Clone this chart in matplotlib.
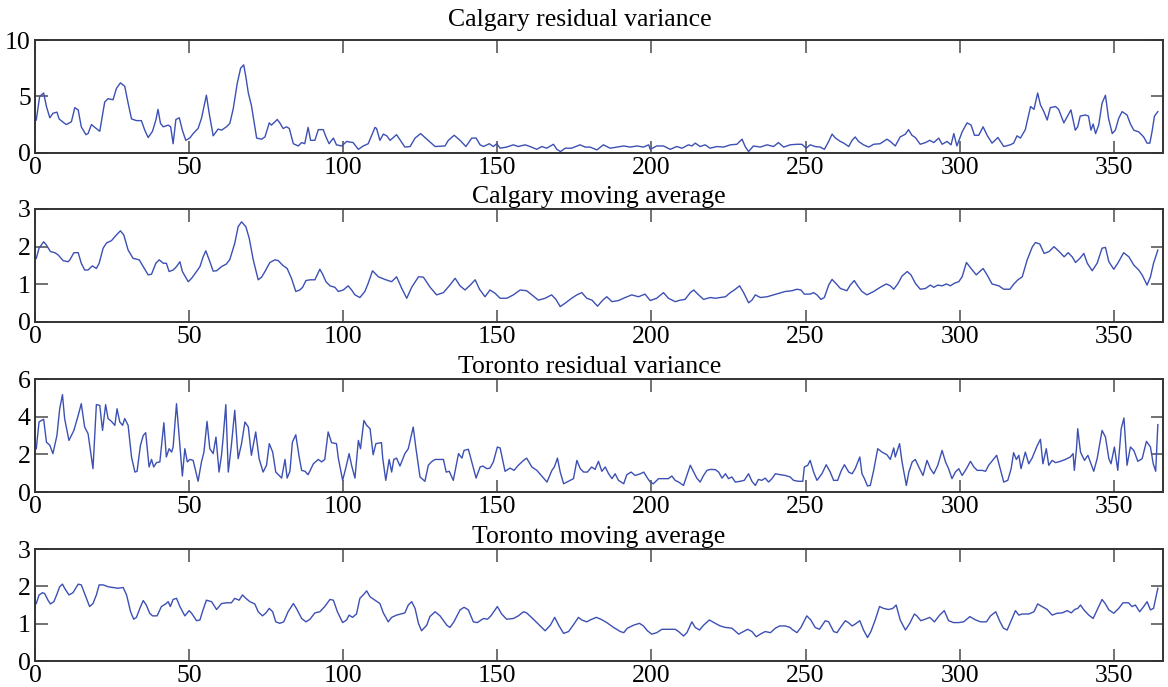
import matplotlib
matplotlib.use("Agg")
import matplotlib.pyplot as plt

# values, (day, value) at turning points
cal_var_day = [0.4, 1.5, 2.8, 3.7, 4.8, 5.8, 7.1, 7.8, 9.6, 10.2, 11.8, 12.9, 14, 15, 16.5, 17.2, 18.3, 19.4, 21,
               22.6, 23.7, 25.3, 26.4, 27.7, 29.1, 30.2, 31.3, 32.9, 34.5, 35.6, 36.7, 38.1, 39.2, 39.9, 40.7, 41.6,
               43.2, 44, 44.8, 45.7, 46.8, 47.8, 48.9, 50.2, 51.3, 52.9, 54, 55.6, 56.5, 57.8, 59.4, 60.5, 62.1,
               63.2, 64.3, 65.6, 66.7, 67.7, 68.4, 69.2, 70.2, 71.9, 73.5, 74.6, 76, 76.7, 78.6, 79.4, 80.5, 81.6,
               82.5, 83.8, 85.4, 86.5, 87.5, 88.6, 89.4, 90.8, 91.9, 93.5, 94.4, 95.4, 96.8, 97.8, 99.5, 101.1,
               103.2, 104.9, 106.5, 108.1, 110.3, 110.8, 111.9, 113, 114.1, 115.2, 117.3, 120, 121.7, 123.3, 125.1,
               126.5, 129.8, 133, 134.1, 136, 137.9, 139.8, 141.7, 143.1, 144.4, 145.5, 147.4, 148.7, 149.8, 150.9,
               153, 155.2, 156.8, 159, 160.6, 162.8, 164.4, 166, 168.2, 169.3, 170.5, 172, 174.1, 176.8, 178.5,
               180.1, 182.3, 184.4, 186.6, 188.8, 191, 193.1, 195.3, 197.4, 199.1, 199.6, 201.7, 203.9, 206.1,
               208.2, 209.9, 212, 213.1, 214.2, 215.8, 217.4, 219, 221.2, 223.4, 225.6, 227.7, 229.4, 230.4, 231.5,
               233.1, 235.3, 237.5, 239.6, 241.2, 242.9, 245, 247.2, 248.8, 250.2, 251.5, 253.1, 254.8, 256.1,
               257.5, 258.6, 259.7, 261.3, 262.4, 264, 265.1, 266.1, 267.2, 268.8, 270.5, 272.1, 274.2, 276.4,
               277.5, 279.1, 280.7, 282.4, 283.4, 284.5, 285.6, 287.2, 288.9, 290.3, 291.6, 293.2, 294.3, 295.9,
               297.2, 298.1, 299.1, 300.8, 302.4, 303.7, 304.8, 306.2, 307.6, 308.9, 310.5, 312.4, 314.3, 316.4,
               317.5, 318.6, 319.7, 321.3, 323, 324.1, 325.3, 326.2, 327.3, 328.4, 329.4, 331.1, 332.1, 333.8,
               334.8, 336.1, 337.5, 338.3, 339.1, 340.8, 341.8, 342.6, 343.3, 344.1, 345.1, 346.2, 347.3, 348.3,
               349.5, 350.5, 351.6, 352.7, 354.3, 355.4, 356.5, 358.1, 359.7, 360.8, 361.7, 362.4, 363.2, 364.3]
cal_var_val = [2.9, 5.0, 5.3, 4.1, 3.1, 3.5, 3.6, 3.0, 2.6, 2.5, 2.75, 4.0, 3.8, 2.3, 1.6, 1.7, 2.5, 2.25, 1.9,
               4.5, 4.8, 4.7, 5.7, 6.2, 5.9, 4.4, 3.0, 2.85, 2.85, 2.0, 1.35, 1.9, 2.9, 3.85, 2.6, 2.3,
               2.45, 2.3, 0.8, 2.95, 3.1, 2.0, 1.1, 1.3, 1.7, 2.15, 3.05, 5.1, 3.5, 1.5, 2.1, 2.0, 2.3,
               2.6, 3.9, 6.15, 7.5, 7.8, 6.75, 5.3, 4.2, 1.3, 1.2, 1.4, 2.65, 2.45, 2.95, 2.65, 2.15, 2.3,
               2.15, 0.8, 0.6, 0.9, 0.8, 2.25, 1.1, 1.1, 2.05, 2.05, 1.4, 0.8, 1.3, 0.7, 0.6, 1.0,
               0.9, 0.3, 0.6, 0.8, 2.25, 2.15, 1.1, 1.65, 1.5, 1.1, 1.6, 0.5, 0.55, 1.3, 1.7,
               1.35, 0.55, 0.6, 1.1, 1.55, 1.1, 0.55, 1.3, 1.3, 0.7, 0.55, 0.8, 0.55, 0.8, 0.4,
               0.5, 0.7, 0.55, 0.7, 0.55, 0.3, 0.55, 0.4, 0.75, 0.3, 0.1, 0.4, 0.4, 0.7, 0.5,
               0.5, 0.25, 0.7, 0.4, 0.5, 0.6, 0.5, 0.6, 0.5, 0.7, 0.3, 0.6, 0.6, 0.3,
               0.55, 0.4, 0.7, 0.6, 0.85, 0.55, 0.7, 0.4, 0.55, 0.5, 0.7, 0.75, 1.2, 0.55, 0.1,
               0.6, 0.5, 0.7, 0.55, 0.9, 0.5, 0.7, 0.75, 0.75, 0.4, 0.7, 0.55, 0.5, 0.3,
               1.0, 1.65, 1.3, 1.0, 0.85, 0.55, 1.1, 1.4, 1.0, 0.7, 0.5, 0.75, 0.8, 1.2,
               1.0, 0.6, 1.4, 1.65, 2.05, 1.55, 1.35, 0.75, 0.9, 1.1, 0.9, 1.3, 0.75, 1.0,
               0.7, 1.7, 0.6, 1.85, 2.65, 2.45, 1.55, 1.55, 2.3, 1.55, 0.85, 1.35, 0.55, 0.7,
               0.85, 1.5, 1.3, 2.05, 4.1, 3.85, 5.3, 4.25, 3.65, 2.9, 4.0, 4.1, 3.85, 2.65,
               3.15, 3.8, 2.0, 2.3, 3.25, 3.35, 3.25, 2.0, 2.55, 1.7, 2.45, 4.4, 5.1, 3.05,
               1.7, 2.0, 3.05, 3.65, 3.35, 2.55, 2.0, 1.85, 1.4, 0.85, 0.85, 1.85, 3.25, 3.65]

cal_avg_day = [0.4, 1.3, 2.8, 3.7, 5, 6.4, 7.5, 9.1, 10.7, 11.3, 12.6, 14, 15, 16.1, 17.2, 18.6, 19.9, 20.8, 22.1,
               23.2, 24.8, 26.4, 27.7, 28.8, 30.2, 31.8, 33.8, 35.1, 36.7, 37.8, 39.2, 40.3, 41.6, 42.6, 43.5,
               44.8, 45.9, 47, 47.8, 49.7, 50.8, 52.4, 53.5, 54.5, 55.4, 56.5, 57.8, 58.9, 60.5, 62.1, 63.2, 64.8,
               65.9, 67, 68.4, 69.5, 70.8, 72.4, 73.5, 74.6, 76.2, 77.8, 78.9, 80.3, 81.8, 83.2, 84.6, 85.9, 86.8,
               87.9, 89.2, 90.8, 92.4, 93.3, 94.4, 95.7, 97.3, 98.4, 100, 101.6, 102.7, 103.8, 105.4, 107, 108.1,
               109.5, 111.4, 113.5, 115.7, 117.3, 119, 120.6, 122.2, 124.4, 126, 128.2, 130.3, 132.5, 134.6, 136.3,
               137.9, 139.5, 141.2, 142.8, 144.2, 146, 147.6, 149.3, 150.9, 153.1, 155.2, 157.4, 159.5, 161.2,
               163.3, 165.5, 167.6, 169, 170.4, 172, 174.1, 175.8, 177.4, 179, 180.7, 182.5, 184.2, 185.5, 187.2,
               189.3, 191.5, 193.6, 195.8, 197.9, 199.6, 201.7, 203.9, 205.5, 207.7, 209.3, 210.9, 212.6, 213.7,
               215.3, 216.9, 219.1, 220.7, 222.3, 224, 225.6, 227.2, 228.6, 229.9, 231.5, 232.6, 233.7, 235.3,
               237.5, 239.6, 241.2, 243.4, 245.6, 247.2, 248.5, 249.6, 251.5, 252.6, 253.7, 255, 256.1, 257.5,
               258.6, 260, 261.3, 263.4, 264.5, 265.8, 266.9, 268.3, 269.9, 272.1, 274.2, 276.2, 277.5, 278.6,
               279.9, 281.3, 283, 284.2, 285.6, 287.2, 288.9, 290.5, 291.6, 292.9, 294.3, 295.7, 297, 298.3,
               299.7, 300.8, 302.2, 303.7, 305.4, 306.5, 307.6, 308.9, 310.5, 312.7, 314.3, 316.3, 317.6, 318.9,
               320.3, 321.9, 323.6, 324.6, 326, 327.4, 329, 330.6, 332.3, 333.9, 335.2, 336.5, 337.6, 339,
               340.3, 341.4, 343, 344.6, 346.2, 347.3, 348.4, 350, 351.3, 353.2, 354.9, 356.5, 358.1, 359.2,
               360.8, 361.9, 362.9, 364.3]
cal_avg_val = [1.69, 1.96, 2.13, 2.04, 1.87, 1.84, 1.78, 1.63, 1.6, 1.65, 1.84, 1.84, 1.56, 1.38, 1.38, 1.49, 1.42,
               1.56, 1.96, 2.1, 2.16, 2.31, 2.42, 2.31, 1.91, 1.69, 1.65, 1.47, 1.25, 1.27, 1.56, 1.65, 1.56,
               1.56, 1.34, 1.38, 1.47, 1.6, 1.34, 1.07, 1.16, 1.34, 1.47, 1.72, 1.89, 1.65, 1.35, 1.36, 1.47,
               1.54, 1.66, 2.09, 2.53, 2.66, 2.53, 2.22, 1.65, 1.12, 1.19, 1.34, 1.58, 1.65, 1.63, 1.51, 1.42,
               1.16, 0.81, 0.85, 0.92, 1.1, 1.12, 1.12, 1.4, 1.27, 1.07, 0.96, 0.92, 0.81, 0.85, 0.96, 0.85,
               0.72, 0.65, 0.81, 1.03, 1.36, 1.2, 1.13, 1.07, 1.2, 0.89, 0.63, 0.92, 1.2, 1.19, 0.92, 0.72,
               0.78, 0.98, 1.16, 0.96, 0.85, 0.98, 1.12, 0.87, 0.67, 0.85, 0.76, 0.63, 0.63, 0.72, 0.85, 0.83,
               0.72, 0.58, 0.63, 0.72, 0.6, 0.41, 0.5, 0.63, 0.72, 0.78, 0.63, 0.58, 0.42, 0.58, 0.67, 0.54,
               0.57, 0.65, 0.72, 0.67, 0.74, 0.57, 0.63, 0.78, 0.63, 0.54, 0.58, 0.6, 0.78, 0.85,
               0.72, 0.6, 0.65, 0.63, 0.65, 0.67, 0.78, 0.87, 0.96, 0.78, 0.51, 0.58, 0.72, 0.65,
               0.67, 0.72, 0.76, 0.81, 0.83, 0.87, 0.85, 0.74, 0.74, 0.78, 0.72, 0.6, 0.65, 0.98,
               1.13, 1.01, 0.89, 0.83, 0.98, 1.1, 0.96, 0.81, 0.72, 0.81, 0.92, 1.01, 0.96, 0.87,
               1.01, 1.22, 1.34, 1.25, 1.03, 0.87, 0.89, 0.98, 0.92, 0.98, 0.96, 1.01, 0.96, 1.03,
               1.07, 1.2, 1.58, 1.42, 1.25, 1.34, 1.42, 1.25, 1.01, 0.96, 0.87, 0.87, 1.01, 1.12,
               1.2, 1.65, 2.0, 2.11, 2.07, 1.82, 1.87, 2.0, 1.87, 1.73, 1.84, 1.73, 1.58, 1.69,
               1.82, 1.56, 1.36, 1.56, 1.96, 1.98, 1.6, 1.4, 1.56, 1.84, 1.73, 1.51, 1.38, 1.25,
               0.98, 1.2, 1.56, 1.91]

tor_var_day = [0.4, 1.3, 2.1, 2.8, 3.7, 4.8, 5.8, 7.1, 8, 8.9, 9.6, 11, 12.6, 14, 15, 16.1, 17.2, 18.8, 19.9, 21,
               21.9, 22.9, 23.7, 24.8, 25.9, 26.6, 27.5, 28.4, 29.1, 30.2, 31.3, 32.4, 33.1, 34.2, 35.1, 35.9,
               37, 37.8, 38.5, 39.4, 40.5, 41.8, 42.6, 43.5, 44.3, 44.8, 45.9, 47, 47.8, 48.6, 49.4, 50.2, 51.3,
               52.9, 54, 54.8, 55.8, 56.7, 57.8, 58.7, 59.7, 60.5, 61, 61.9, 62.7, 63.7, 64.8, 65.9, 67, 68.1,
               69.2, 70.2, 71.6, 72.7, 74, 75.1, 76, 77.1, 78.1, 79.2, 80, 81.1, 81.8, 82.7, 83.5, 84.6, 85.7,
               86.5, 87.6, 88.6, 90.3, 91.9, 93, 94, 95.1, 96.2, 97.8, 98.4, 99.8, 100.9, 101.9, 102.7, 103.8,
               104.9, 105.6, 106.7, 107.6, 108.7, 109.7, 110.6, 112.4, 112.8, 113.8, 114.9, 115.7, 116.4, 117.3,
               118.4, 120, 121.1, 122.7, 123.6, 124.9, 126.5, 127.6, 128.6, 129.8, 132.5, 133.4, 134.4, 135.7,
               137.4, 138.5, 139.2, 140.6, 141.7, 143.1, 144.4, 145.3, 146.6, 147.6, 148.7, 150, 150.9, 152.5,
               154.1, 155.4, 156.8, 158.5, 159.5, 161.2, 162.8, 165, 166.1, 167.7, 168.5, 169.5, 170.4, 171.5,
               173.6, 174.7, 175.8, 176.9, 178, 179.2, 180.6, 181.7, 182.8, 183.9, 185, 186.1, 187.2, 188.2,
               189.3, 191, 192, 193.4, 194.7, 196.4, 197.5, 198.7, 199.6, 200.6, 202.3, 203.9, 205.5, 206.6,
               207.7, 208.8, 210.4, 211.5, 212.6, 213.7, 214.7, 215.8, 216.9, 218, 219.1, 220.7, 221.8, 222.9,
               224, 225, 226.1, 227.2, 228.8, 230.1, 231.5, 232.6, 233.7, 234.7, 235.8, 236.9, 238, 239.1,
               240.2, 241.8, 243.4, 245, 246.1, 247.7, 249.1, 249.6, 250.7, 251.5, 252.6, 253.7, 255.3, 256.7,
               258, 259.1, 260.4, 261.5, 262.6, 264, 265.1, 266.1, 267.6, 268.3, 269.1, 270.1, 271, 272.1,
               273.4, 274.8, 276.4, 277.5, 278.6, 279.1, 280.5, 281.3, 282.1, 282.7, 283.5, 284.6, 285.6, 287,
               288.1, 289.4, 290.5, 291.6, 292.9, 294.3, 295.4, 296.4, 297.5, 298.6, 299.7, 300.8, 302.2, 303.5,
               304.6, 305.7, 307.3, 308.4, 309.4, 310.9, 312, 313, 314.3, 315.6, 316.7, 317.5, 318.4, 319.2,
               319.9, 321.3, 322.4, 323.5, 325.1, 326.2, 327, 328.1, 328.9, 330, 331.1, 332.7, 334.3, 335.9,
               336.8, 337.2, 337.9, 338.3, 339.2, 340.5, 341.6, 343.5, 344.6, 346.2, 347.3, 348.4, 349.1, 350.2,
               351.3, 352.4, 353.3, 354.3, 355.4, 356.5, 357.8, 359.2, 360.6, 361.9, 362.8, 363.6, 364.3]
tor_var_val = [2.3, 3.72, 3.8, 3.86, 2.65, 2.48, 2.04, 3.0, 4.42, 5.17, 3.9, 2.74, 3.27, 4.07, 4.69, 3.45, 3.1,
               1.24, 4.64, 4.6, 3.27, 4.64, 3.9, 3.75, 3.54, 4.42, 3.72, 3.54, 3.9, 3.54, 1.86, 1.06, 1.1, 2.48,
               3.0, 3.15, 1.33, 1.73, 1.33, 1.56, 1.6, 3.68, 1.86, 2.3, 2.12, 2.39, 4.69, 2.48, 0.85, 2.3, 1.6,
               1.73, 1.68, 0.57, 1.6, 2.12, 3.75, 2.3, 2.04, 2.92, 1.06, 1.95, 2.83, 4.64, 1.06, 2.48, 4.34,
               1.77, 2.57, 3.72, 3.45, 1.95, 3.19, 1.77, 1.06, 1.42, 2.57, 2.12, 1.06, 0.88, 0.74, 1.73, 0.74,
               1.1, 2.65, 3.04, 1.86, 1.15, 1.1, 0.92, 1.5, 1.73, 1.6, 1.73, 3.19, 2.62, 2.57, 1.8, 0.62, 1.33,
               2.04, 1.42, 0.74, 2.74, 2.3, 3.8, 3.54, 3.36, 1.98, 2.57, 2.62, 1.8, 0.62, 1.73, 1.06, 1.73,
               1.8, 1.38, 2.04, 2.3, 3.45, 2.3, 0.8, 0.57, 1.42, 1.6, 1.73, 1.73, 1.06, 1.1, 0.62,
               2.04, 1.8, 2.21, 2.27, 1.6, 0.74, 1.33, 1.38, 1.24, 1.27, 1.6, 2.39, 2.34, 1.1,
               1.27, 1.15, 1.42, 1.68, 1.8, 1.33, 1.15, 0.74, 0.53, 1.15, 1.33, 1.8, 1.06, 0.44,
               0.62, 0.71, 1.68, 1.24, 1.06, 1.06, 1.33, 1.2, 1.63, 1.1, 1.33, 0.97, 0.71, 0.97,
               0.62, 0.44, 0.92, 1.06, 0.88, 0.97, 1.06, 0.74, 0.53, 0.44, 0.71, 0.71, 0.71, 0.85,
               0.62, 0.53, 0.35, 0.88, 1.42, 1.06, 0.74, 0.53, 0.88, 1.15, 1.2, 1.19, 1.06, 0.74,
               0.97, 0.71, 0.8, 0.53, 0.57, 0.62, 0.97, 0.57, 0.35, 0.67, 0.62, 0.74, 0.53, 0.71,
               0.97, 0.92, 0.88, 0.8, 0.62, 0.57, 0.57, 1.33, 1.42, 1.68, 1.06, 0.62, 0.97, 1.45,
               1.06, 0.62, 0.62, 1.1, 1.45, 1.06, 0.97, 1.24, 1.86, 0.97, 0.71, 0.32, 0.35, 1.15,
               2.3, 2.12, 1.98, 1.73, 2.34, 1.86, 2.57, 1.6, 0.88, 0.35, 1.06, 1.6, 1.73, 1.24,
               0.88, 1.68, 1.24, 0.97, 1.42, 2.21, 1.6, 1.24, 0.71, 1.06, 1.24, 0.88, 1.24, 1.63,
               1.33, 1.15, 1.15, 1.1, 1.42, 1.73, 1.95, 1.33, 0.53, 0.62, 1.24, 2.09, 1.73, 1.95,
               1.24, 2.12, 1.5, 1.8, 2.44, 2.8, 1.5, 2.3, 1.42, 1.68, 1.56, 1.63, 1.73, 1.86,
               2.04, 1.15, 2.3, 3.36, 2.12, 1.68, 1.95, 1.1, 1.77, 3.27, 2.92, 1.77, 1.5, 2.39,
               1.15, 3.36, 3.93, 1.42, 2.39, 2.21, 1.63, 1.77, 2.69, 2.39, 1.5, 1.1, 3.58]

tor_avg_day = [0.4, 1.3, 2.4, 3.1, 4.2, 5, 6.1, 7.1, 8, 8.9, 9.6, 11, 12.3, 14, 15, 16.5, 17.7, 18.8, 19.9, 20.8,
               22.1, 23.7, 25.3, 26.9, 28.6, 29.7, 31, 32, 32.9, 34, 35.1, 36.1, 37.2, 38.1, 39.6, 41, 42.4, 43.2,
               43.9, 44.8, 45.9, 47, 48.6, 50, 50.8, 52.4, 53.5, 54.5, 55.6, 57.3, 58.9, 60.5, 62.1, 63.7, 64.8,
               66.2, 67.3, 68.4, 69.7, 71.3, 72.4, 73.8, 74.9, 76, 77.1, 78.1, 79.4, 80.7, 82.1, 83.8, 84.8, 86.5,
               87.9, 89.2, 90.8, 92.4, 94, 95.7, 96.8, 98.1, 99.8, 101.1, 101.9, 103, 104.3, 105.4, 106.7, 107.6,
               108.7, 110.3, 111, 111.9, 113, 114.6, 115.7, 117.3, 120, 121.1, 122.2, 123.3, 124.4, 125.4, 127.1,
               128.1, 129.8, 131.4, 133.6, 134.6, 135.9, 137.9, 139.2, 140.6, 142.2, 143.5, 145.5, 146.8, 147.9,
               150, 151.4, 153, 155.2, 156.8, 158.5, 159.5, 161.7, 163.9, 165.5, 167.2, 168.6, 169.9, 171.5,
               173.1, 174.6, 176.3, 177.4, 179, 180.1, 182.1, 183.6, 185.5, 187.7, 189.9, 191, 192.2, 194.2,
               196.1, 197.4, 198.7, 200.1, 201.7, 203.4, 205.5, 207.7, 208.8, 210.4, 211.5, 213.1, 214.2, 215.6,
               216.9, 218.8, 220.7, 222.3, 224, 226.1, 228.3, 229.9, 231.2, 232.6, 234, 235.3, 236.9, 238.6,
               240.2, 241.6, 243.4, 245, 245.6, 247.2, 248.5, 250.4, 251.7, 253.1, 254.5, 256.4, 257.5, 259.1,
               260.2, 261.5, 262.9, 263.9, 265.1, 266.1, 267.6, 268.8, 270.1, 271.2, 272.6, 274, 275.3, 276.9,
               278.3, 279.4, 280.7, 282.4, 283.8, 285.3, 286.1, 287.4, 288.8, 290.3, 291.8, 293.5, 295, 296.4,
               298, 299.7, 301.3, 303.3, 305.2, 306.8, 308.7, 310, 311.7, 313.1, 314.2, 315.4, 316.7, 318.1,
               319.2, 320.3, 322.4, 324.1, 325.3, 326.7, 328.4, 330, 331.6, 333.3, 334.9, 336.2, 337.3, 338.3,
               339.2, 340.3, 341.9, 343.3, 344.6, 346.2, 347.3, 348.4, 350, 351.6, 353, 354.8, 355.9, 357,
               358.4, 359.7, 360.8, 361.9, 362.9, 364.3]
tor_avg_val = [1.54, 1.77, 1.83, 1.81, 1.63, 1.53, 1.59, 1.79, 1.99, 2.06, 1.95, 1.77, 1.83, 2.06, 2.04, 1.72,
               1.46, 1.54, 1.77, 2.04, 2.04, 1.99, 1.97, 1.95, 1.97, 1.77, 1.32, 1.12, 1.17, 1.41, 1.62, 1.5,
               1.28, 1.21, 1.21, 1.46, 1.53, 1.59, 1.46, 1.65, 1.68, 1.46, 1.21, 1.35, 1.28, 1.08, 1.1, 1.37,
               1.63, 1.59, 1.38, 1.54, 1.56, 1.56, 1.68, 1.63, 1.77, 1.68, 1.59, 1.53, 1.32, 1.21, 1.29, 1.41,
               1.32, 1.05, 1.01, 1.05, 1.32, 1.54, 1.41, 1.14, 1.05, 1.12, 1.29, 1.32, 1.46, 1.65, 1.63, 1.32,
               1.03, 1.1, 1.23, 1.17, 1.26, 1.68, 1.79, 1.88, 1.72, 1.63, 1.59, 1.54, 1.29, 1.05, 1.17, 1.23,
               1.29, 1.5, 1.59, 1.41, 1.01, 0.81, 0.96, 1.19, 1.32, 1.21, 0.96, 0.9, 1.05, 1.37, 1.44, 1.37,
               1.05, 1.03, 1.14, 1.12, 1.21, 1.46, 1.26, 1.12, 1.14, 1.21, 1.32, 1.29, 1.12, 0.94, 0.81, 0.96,
               1.17, 0.96, 0.74, 0.79, 0.96, 1.17, 1.1, 1.05, 1.1, 1.17, 1.12, 1.03, 0.9, 0.79, 0.76, 0.88,
               0.96, 1.01, 0.94, 0.81, 0.72, 0.76, 0.85, 0.85, 0.85, 0.79, 0.67, 0.76, 1.05, 0.9, 0.83,
               0.96, 1.1, 1.01, 0.94, 0.9, 0.88, 0.72, 0.79, 0.85, 0.79, 0.65, 0.72, 0.79, 0.76,
               0.88, 0.94, 0.94, 0.9, 0.85, 0.76, 0.9, 1.21, 1.1, 0.9, 0.85, 1.08, 1.05, 0.79,
               0.76, 0.92, 1.08, 1.03, 0.94, 0.99, 1.08, 0.83, 0.63, 0.79, 1.1, 1.46, 1.41, 1.38,
               1.41, 1.5, 1.1, 0.83, 1.01, 1.26, 1.21, 1.08, 1.12, 1.17, 1.05, 1.23, 1.35, 1.08,
               1.03, 1.03, 1.05, 1.19, 1.1, 1.05, 1.05, 1.21, 1.32, 1.05, 0.88, 0.83, 1.08, 1.35,
               1.23, 1.26, 1.26, 1.32, 1.53, 1.46, 1.38, 1.23, 1.28, 1.29, 1.35, 1.29, 1.38, 1.41,
               1.5, 1.37, 1.23, 1.14, 1.37, 1.65, 1.53, 1.37, 1.28, 1.41, 1.56, 1.56, 1.46, 1.5,
               1.32, 1.46, 1.59, 1.37, 1.41, 1.95]

titles = ["Calgary residual variance", "Calgary moving average",
          "Toronto residual variance", "Toronto moving average"]
y_ticks = [[0, 5, 10], [0, 1, 2, 3], [0, 2, 4, 6], [0, 1, 2, 3]]
x_ticks = [0, 50, 100, 150, 200, 250, 300, 350]

series = [(cal_var_day, cal_var_val), (cal_avg_day, cal_avg_val),
          (tor_var_day, tor_var_val), (tor_avg_day, tor_avg_val)]

plt.rcParams["font.family"] = ["Liberation Serif", "DejaVu Serif"]
plt.rcParams["font.size"] = 18.5

fig = plt.figure(figsize=(11.68, 6.87), dpi=100)
bottoms = [0.7777, 0.5313, 0.2838, 0.0378]
heights = [0.164, 0.1645, 0.1645, 0.163]
title_x = [0.483, 0.5, 0.492, 0.5]
title_pad = [10, 4, 4, 4]

for i in range(4):
    ax = fig.add_axes([0.030, bottoms[i], 0.9658, heights[i]])
    days, vals = series[i]
    ax.plot(days, vals, color="#3c50b4", linewidth=1.0)
    ax.set_xlim(0, 366)
    ax.set_ylim(y_ticks[i][0], y_ticks[i][-1])
    ax.set_xticks(x_ticks)
    ax.set_yticks(y_ticks[i])
    ax.set_title(titles[i], fontsize=18.5, pad=title_pad[i], x=title_x[i])
    ax.tick_params(direction="in", length=9, width=1.3, color="#666666",
                   top=True, right=True, pad=3, labelsize=18.5)
    for s in ax.spines.values():
        s.set_linewidth(1.4)
        s.set_color("#333333")

fig.savefig("out.png", dpi=100)
